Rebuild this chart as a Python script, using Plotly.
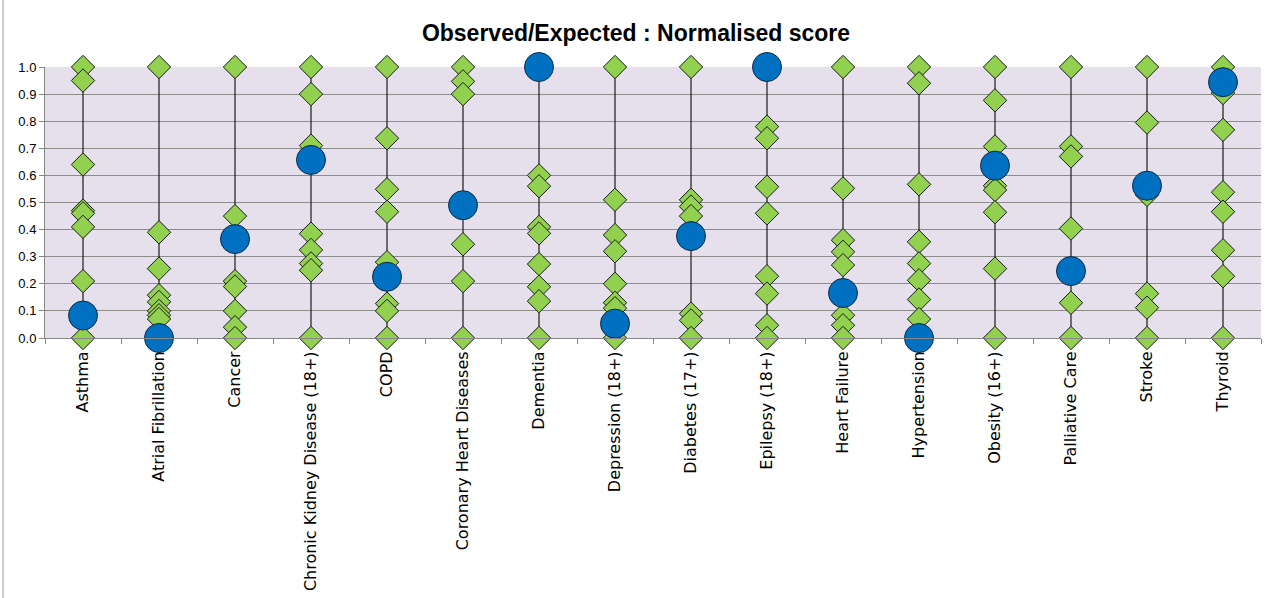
import plotly.graph_objects as go

categories = ["Asthma", "Atrial Fibrillation", "Cancer", "Chronic Kidney Disease (18+)", "COPD",
              "Coronary Heart Diseases", "Dementia", "Depression (18+)", "Diabetes (17+)",
              "Epilepsy (18+)", "Heart Failure", "Hypertension", "Obesity (16+)",
              "Palliative Care", "Stroke", "Thyroid"]

# peer practice scores (green diamonds), one list per category
asthma = [1.0, 0.95, 0.64, 0.47, 0.46, 0.41, 0.21, 0.0]
atrial_fibrillation = [1.0, 0.39, 0.256, 0.158, 0.133, 0.10, 0.084, 0.07]
cancer = [1.0, 0.45, 0.21, 0.19, 0.10, 0.04, 0.0]
ckd = [1.0, 0.90, 0.71, 0.385, 0.325, 0.275, 0.25, 0.0]
copd = [1.0, 0.737, 0.549, 0.466, 0.28, 0.127, 0.10, 0.0]
chd = [1.0, 0.947, 0.90, 0.346, 0.21, 0.0]
dementia = [0.60, 0.56, 0.41, 0.386, 0.273, 0.189, 0.136, 0.0]
depression = [1.0, 0.51, 0.38, 0.32, 0.20, 0.13, 0.11, 0.0]
diabetes = [1.0, 0.51, 0.485, 0.45, 0.09, 0.065, 0.0]
epilepsy = [0.78, 0.737, 0.558, 0.46, 0.228, 0.164, 0.047, 0.0]
heart_failure = [1.0, 0.552, 0.361, 0.318, 0.269, 0.084, 0.047, 0.0]
hypertension = [1.0, 0.94, 0.567, 0.355, 0.275, 0.213, 0.142, 0.07]
obesity = [1.0, 0.877, 0.707, 0.562, 0.546, 0.464, 0.256, 0.0]
palliative_care = [1.0, 0.707, 0.67, 0.404, 0.13, 0.0]
stroke = [1.0, 0.795, 0.528, 0.164, 0.112, 0.0]
thyroid = [1.0, 0.904, 0.768, 0.538, 0.466, 0.324, 0.228, 0.0]

# highlighted practice (blue circles)
practice_score = [0.083, 0.0, 0.365, 0.657, 0.226, 0.49, 1.0, 0.053, 0.376,
                  1.0, 0.166, 0.0, 0.636, 0.247, 0.562, 0.944]

peers = [asthma, atrial_fibrillation, cancer, ckd, copd, chd, dementia, depression,
         diabetes, epilepsy, heart_failure, hypertension, obesity, palliative_care,
         stroke, thyroid]

fig = go.Figure()

# high-low lines
lx, ly = [], []
for cat, vals, p in zip(categories, peers, practice_score):
    allv = vals + [p]
    lx += [cat, cat, None]
    ly += [min(allv), max(allv), None]
fig.add_trace(go.Scatter(x=lx, y=ly, mode="lines", line=dict(color="#1a1a1a", width=1.2),
                         hoverinfo="skip", showlegend=False, cliponaxis=False))

dx, dy = [], []
for cat, vals in zip(categories, peers):
    for v in vals:
        dx.append(cat)
        dy.append(v)
fig.add_trace(go.Scatter(x=dx, y=dy, mode="markers",
                         marker=dict(symbol="diamond", size=18, color="#92D050",
                                     line=dict(color="#1a1a1a", width=1)),
                         showlegend=False, cliponaxis=False))

fig.add_trace(go.Scatter(x=categories, y=practice_score, mode="markers",
                         marker=dict(symbol="circle", size=29, color="#0070C0",
                                     line=dict(color="#0d2a44", width=1)),
                         showlegend=False, cliponaxis=False))

fig.update_layout(
    width=1272, height=598,
    margin=dict(l=45, r=11, t=67, b=260, autoexpand=False),
    paper_bgcolor="white",
    plot_bgcolor="#E5E0EC",
    title=dict(text="<b>Observed/Expected : Normalised score</b>", x=0.5, xref="container",
               yref="container", xanchor="center", y=1 - 33 / 598, yanchor="middle",
               font=dict(family="Liberation Sans", size=23, color="black")),
    font=dict(family="DejaVu Sans", color="black"),
    shapes=[dict(type="line", xref="paper", yref="paper",
                 x0=(3 - 45) / 1216, x1=(3 - 45) / 1216,
                 y0=(338 - 598) / 271, y1=(338 - 0) / 271,
                 line=dict(color="#9a9a9a", width=1))],
)

fig.update_xaxes(
    type="category", categoryorder="array", categoryarray=categories,
    range=[-0.5, 15.5], tickangle=-90, automargin=False,
    tickfont=dict(family="DejaVu Sans", size=16, color="black"),
    ticklabelstandoff=6,
    showline=True, linecolor="#868686", linewidth=1,
    ticks="outside", tickson="boundaries", ticklen=5, tickcolor="#868686",
    showgrid=False, zeroline=False,
)
fig.update_yaxes(
    range=[0, 1], dtick=0.1, tick0=0, tickformat=".1f", automargin=False,
    tickfont=dict(family="Liberation Sans", size=13, color="black"),
    showline=True, linecolor="#868686", linewidth=1,
    ticks="outside", ticklen=5, tickcolor="#868686",
    showgrid=True, gridcolor="#8c8c8c", gridwidth=1, zeroline=False,
)

fig.write_html("out.html", config={"displayModeBar": False},
               post_script="document.body.style.margin='0px';")
